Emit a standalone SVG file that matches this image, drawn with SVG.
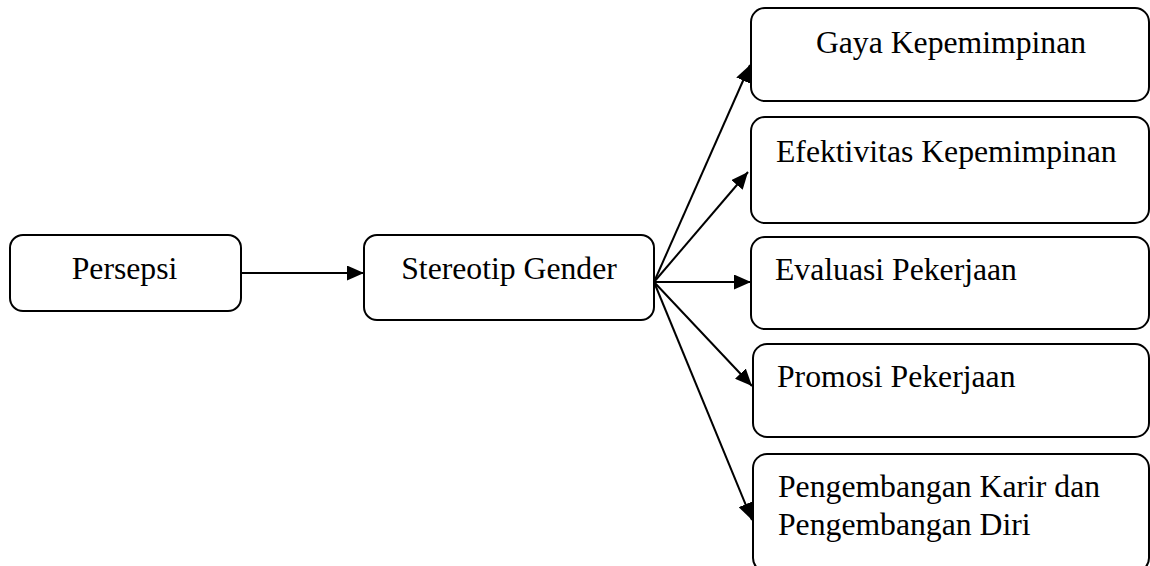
<svg xmlns="http://www.w3.org/2000/svg" width="1150" height="566" viewBox="0 0 1150 566">
<style>
.box{fill:#fff;stroke:#000;stroke-width:2}
.t{font-family:"Liberation Serif","Times New Roman",serif;font-size:31.7px;fill:#000}
.c{text-anchor:middle}
.ln{stroke:#000;stroke-width:2;fill:none}
</style>
<defs>
<marker id="ah2" markerWidth="17" markerHeight="15" refX="17" refY="7.5" orient="auto" markerUnits="userSpaceOnUse" viewBox="0 0 17 15">
<path d="M0,0 L17,7.5 L0,15 Z" fill="#000"/>
</marker>
</defs>
<rect width="1150" height="566" fill="#fff"/>
<g id="persepsi">
<rect class="box" x="10" y="235" width="231" height="76" rx="13"/>
<text class="t c" x="124.5" y="279">Persepsi</text>
</g>
<g id="stereotip">
<rect class="box" x="364" y="235" width="290" height="85" rx="13"/>
<text class="t c" x="509" y="279">Stereotip Gender</text>
</g>
<g id="gaya">
<rect class="box" x="751" y="8" width="398" height="93" rx="14"/>
<text class="t c" x="951" y="53">Gaya Kepemimpinan</text>
</g>
<g id="efektivitas">
<rect class="box" x="751" y="117" width="398" height="106" rx="14"/>
<text class="t" x="776" y="162">Efektivitas Kepemimpinan</text>
</g>
<g id="evaluasi">
<rect class="box" x="751" y="237" width="398" height="92" rx="14"/>
<text class="t" x="775" y="280">Evaluasi Pekerjaan</text>
</g>
<g id="promosi">
<rect class="box" x="753" y="344" width="396" height="93" rx="14"/>
<text class="t" x="777" y="387">Promosi Pekerjaan</text>
</g>
<g id="pengembangan">
<rect class="box" x="753" y="454" width="396" height="118" rx="14"/>
<text class="t" x="778" y="497">Pengembangan Karir dan</text>
<text class="t" x="778" y="535">Pengembangan Diri</text>
</g>
<g id="connectors">
<line class="ln" x1="241" y1="273" x2="364" y2="273" marker-end="url(#ah2)"/>
<line class="ln" x1="654" y1="282" x2="750" y2="65" marker-end="url(#ah2)"/>
<line class="ln" x1="654" y1="282" x2="748" y2="172" marker-end="url(#ah2)"/>
<line class="ln" x1="654" y1="282" x2="751" y2="282" marker-end="url(#ah2)"/>
<line class="ln" x1="654" y1="282" x2="752" y2="386" marker-end="url(#ah2)"/>
<line class="ln" x1="654" y1="282" x2="752" y2="520" marker-end="url(#ah2)"/>
</g>
</svg>
